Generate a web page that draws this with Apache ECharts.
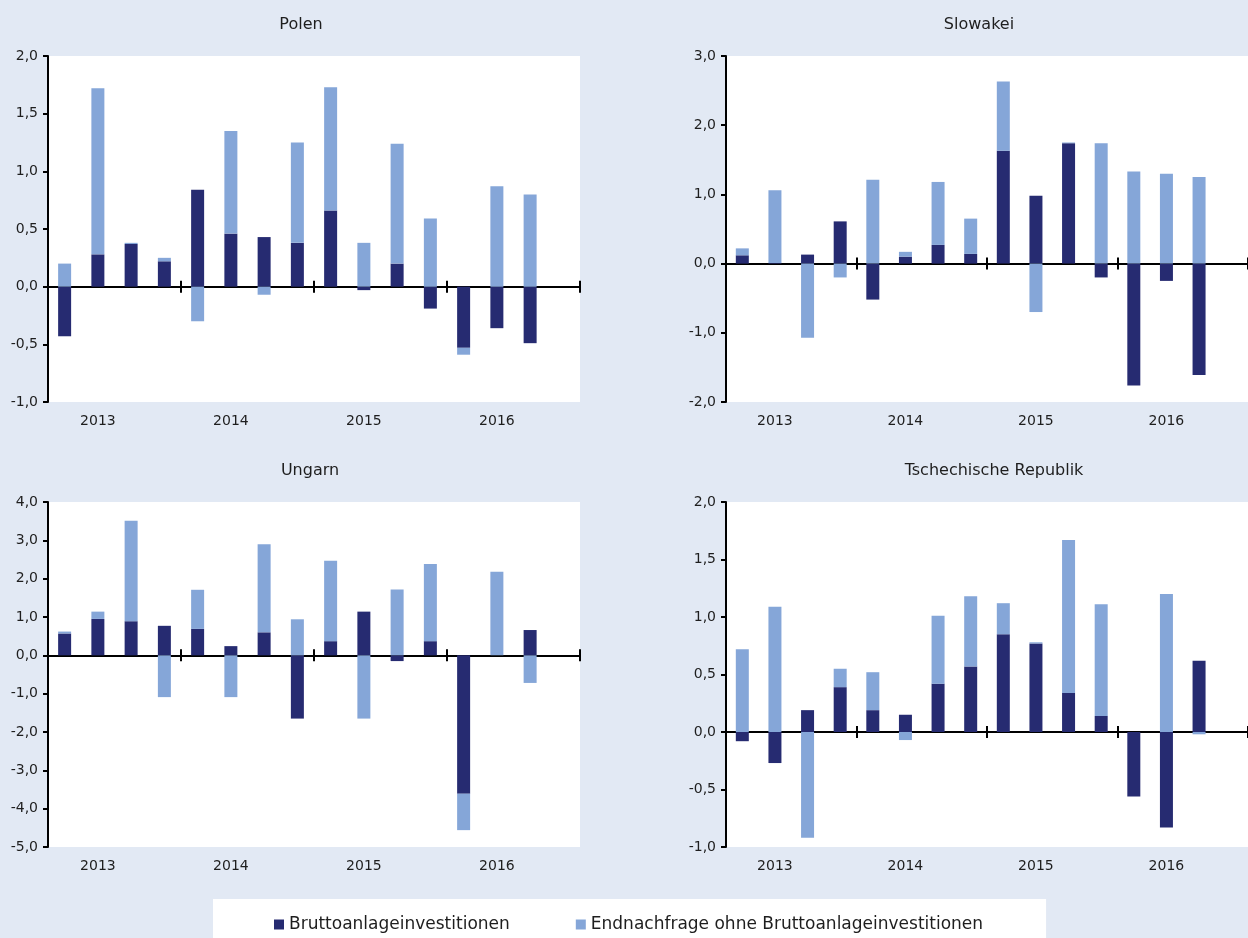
<!DOCTYPE html>
<html>
<head>
<meta charset="utf-8">
<script src="https://cdn.jsdelivr.net/npm/echarts@6/dist/echarts.min.js"></script>
<style>
  html, body { margin: 0; padding: 0; background: #e2e9f4; }
  #chart { width: 1248px; height: 938px; }
</style>
</head>
<body>
<div id="chart"></div>
<script>
// quarters 2013 Q1 .. 2016 Q4 (data ends at 2016 Q3)
const quarters = [
  '2013Q1', '2013Q2', '2013Q3', '2013Q4',
  '2014Q1', '2014Q2', '2014Q3', '2014Q4',
  '2015Q1', '2015Q2', '2015Q3', '2015Q4',
  '2016Q1', '2016Q2', '2016Q3', '2016Q4',
]
const seriesNames = ['Bruttoanlageinvestitionen', 'Endnachfrage ohne Bruttoanlageinvestitionen']

const polenBrutto = [-0.43, 0.28, 0.37, 0.22, 0.84, 0.46, 0.43, 0.38, 0.66, -0.03, 0.2, -0.19, -0.53, -0.36, -0.49]
const polenRest = [0.2, 1.44, 0.01, 0.03, -0.3, 0.89, -0.07, 0.87, 1.07, 0.38, 1.04, 0.59, -0.06, 0.87, 0.8]

const slowakeiBrutto = [0.12, 0.01, 0.13, 0.61, -0.52, 0.1, 0.27, 0.14, 1.63, 0.98, 1.74, -0.2, -1.76, -0.25, -1.61]
const slowakeiRest = [0.1, 1.05, -1.07, -0.2, 1.21, 0.07, 0.91, 0.51, 1.0, -0.7, 0.01, 1.74, 1.33, 1.3, 1.25]

const ungarnBrutto = [0.57, 0.95, 0.89, 0.77, 0.69, 0.24, 0.6, -1.65, 0.37, 1.14, -0.15, 0.37, -3.61, 0, 0.66]
const ungarnRest = [0.05, 0.19, 2.62, -1.09, 1.02, -1.09, 2.3, 0.94, 2.1, -1.65, 1.72, 2.01, -0.95, 2.18, -0.72]

const tschechienBrutto = [-0.08, -0.27, 0.19, 0.39, 0.19, 0.15, 0.42, 0.57, 0.85, 0.77, 0.34, 0.14, -0.56, -0.83, 0.62]
const tschechienRest = [0.72, 1.09, -0.92, 0.16, 0.33, -0.07, 0.59, 0.61, 0.27, 0.01, 1.33, 0.97, 0, 1.2, -0.02]

const panels = [
  { title: 'Polen', brutto: polenBrutto, rest: polenRest, min: -1, max: 2, interval: 0.5,
    grid: { left: 48, top: 56, width: 532, height: 346 }, titlePos: [296, 12] },
  { title: 'Slowakei', brutto: slowakeiBrutto, rest: slowakeiRest, min: -2, max: 3, interval: 1,
    grid: { left: 726, top: 56, width: 532, height: 346 }, titlePos: [974, 12] },
  { title: 'Ungarn', brutto: ungarnBrutto, rest: ungarnRest, min: -5, max: 4, interval: 1,
    grid: { left: 48, top: 502, width: 532, height: 345 }, titlePos: [305, 458] },
  { title: 'Tschechische Republik', brutto: tschechienBrutto, rest: tschechienRest, min: -1, max: 2, interval: 0.5,
    grid: { left: 726, top: 502, width: 532, height: 345 }, titlePos: [989, 458] },
]

const font = 'DejaVu Sans'
const textColor = '#1e1e1e'
const darkBlue = '#262b71'
const lightBlue = '#85a6d8'
const n = panels.length

const grids = []
const xAxes = []
const yAxes = []
const series = []
const titles = []

panels.forEach((p, i) => {
  grids.push({ ...p.grid, show: true, backgroundColor: '#ffffff', borderWidth: 0 })
  titles.push({
    text: p.title,
    left: p.titlePos[0],
    top: p.titlePos[1],
    textAlign: 'center',
    textStyle: { fontFamily: font, fontSize: 16, fontWeight: 'normal', color: textColor },
  })
  // year labels at the bottom of the plot
  xAxes.push({
    type: 'category', gridIndex: i, data: quarters, position: 'bottom',
    axisLine: { show: false, onZero: false }, axisTick: { show: false },
    axisLabel: {
      interval: 0, margin: 12, fontFamily: font, fontSize: 14, color: textColor,
      formatter: (v) => (v.endsWith('Q2') ? v.slice(0, 4) : ''),
    },
  })
  // zero line with year separators (lower half of tick)
  xAxes.push({
    type: 'category', gridIndex: i, data: quarters, position: 'bottom',
    axisLine: { show: true, onZero: true, onZeroAxisIndex: i, lineStyle: { color: '#000', width: 2 } },
    axisTick: { show: true, length: 6, interval: 3, lineStyle: { color: '#000', width: 2 } },
    axisLabel: { show: false, interval: 3 },
  })
  // upper half of the year separator ticks, placed on zero of a hidden twin y axis
  xAxes.push({
    type: 'category', gridIndex: i, data: quarters, position: 'top',
    axisLine: { show: false, onZero: true, onZeroAxisIndex: n + i },
    axisTick: { show: true, length: 6, interval: 3, lineStyle: { color: '#000', width: 2 } },
    axisLabel: { show: false, interval: 3 },
  })
  yAxes.push({
    type: 'value', gridIndex: i, min: p.min, max: p.max, interval: p.interval,
    axisLine: { show: true, lineStyle: { color: '#000', width: 2 } },
    axisTick: { show: true, length: 5, lineStyle: { color: '#000', width: 2 } },
    splitLine: { show: false },
    axisLabel: {
      margin: 10, fontFamily: font, fontSize: 14, color: textColor,
      formatter: (v) => v.toFixed(1).replace('.', ','),
    },
  })
  series.push({
    name: seriesNames[0], type: 'bar', stack: 'p' + i,
    xAxisIndex: i * 3 + 1, yAxisIndex: i, barWidth: 13,
    itemStyle: { color: darkBlue }, data: p.brutto,
  })
  series.push({
    name: seriesNames[1], type: 'bar', stack: 'p' + i,
    xAxisIndex: i * 3 + 1, yAxisIndex: i, barWidth: 13,
    itemStyle: { color: lightBlue }, data: p.rest,
  })
})

// hidden twin y axes (same range) so a second x axis can also sit on zero
panels.forEach((p, i) => {
  yAxes.push({
    type: 'value', gridIndex: i, min: p.min, max: p.max, interval: p.interval, position: 'right',
    axisLine: { show: false, onZero: false }, axisTick: { show: false },
    axisLabel: { show: false }, splitLine: { show: false },
  })
})

const chart = echarts.init(document.getElementById('chart'))
chart.setOption({
  backgroundColor: '#e2e9f4',
  animation: false,
  title: titles,
  legend: {
    data: seriesNames,
    left: 213, top: 899,
    padding: [17, 63, 14, 61],
    itemGap: 66,
    itemWidth: 10, itemHeight: 10,
    icon: 'rect',
    backgroundColor: '#ffffff',
    textStyle: { fontFamily: font, fontSize: 17, color: textColor },
  },
  grid: grids,
  xAxis: xAxes,
  yAxis: yAxes,
  series,
})
</script>
</body>
</html>
